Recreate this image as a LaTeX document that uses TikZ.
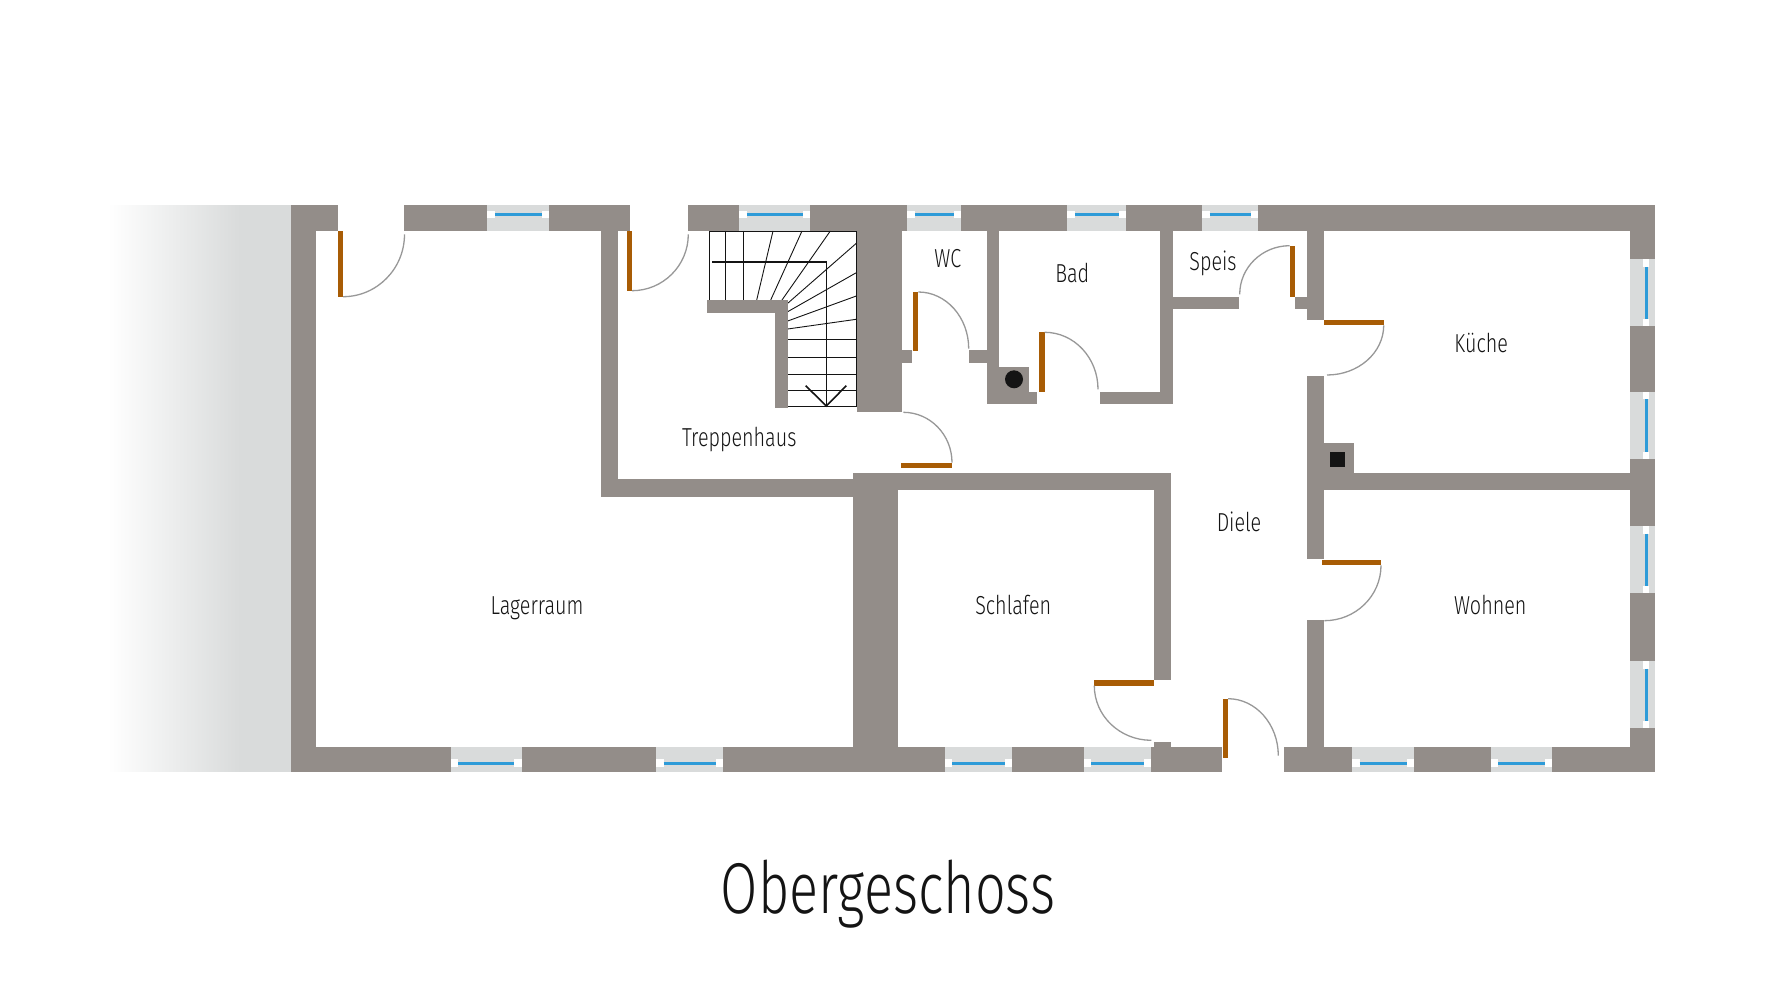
\documentclass[tikz,border=0pt]{standalone}
\usepackage{fontspec}
\setmainfont[FakeStretch=0.76]{Fira Sans Light}
\newfontfamily\titlefont[FakeStretch=0.75]{Fira Sans Light}
\usetikzlibrary{calc}
\definecolor{wallc}{HTML}{938D89}
\definecolor{glassc}{HTML}{D9DBDB}
\definecolor{bluec}{HTML}{2E9BD8}
\definecolor{doorc}{HTML}{A85C05}
\definecolor{swingc}{HTML}{989898}
\definecolor{inkc}{HTML}{141414}
\tikzset{
  wallfill/.style={fill=wallc},
  glassfill/.style={fill=glassc},
  doorfill/.style={fill=doorc},
  swingline/.style={draw=swingc,line width=1.3pt},
  pane/.style={draw=bluec,line width=3pt},
  tread/.style={draw=inkc,line width=0.9pt},
  rail/.style={draw=inkc,line width=1.6pt},
  roomlabel/.style={anchor=base,font=\fontsize{26}{26}\selectfont,text=inkc,inner sep=0pt},
  heading/.style={anchor=base,font=\titlefont\fontsize{72}{72}\selectfont,text=inkc,inner sep=0pt}
}
\newcommand{\Wl}[4]{\fill[wallfill] (#1,#2) rectangle (#3,#4);}
\newcommand{\Dr}[4]{\fill[doorfill] (#1,#2) rectangle (#3,#4);}
% horizontal window: x1 x2
\newcommand{\WT}[2]{\fill[glassfill] (#1,205.3) rectangle (#2,231);
  \fill[white] (#1,210.8) rectangle ($(#1,218.2)+(7.5,0)$);
  \fill[white] ($(#2,210.8)+(-7.5,0)$) rectangle (#2,218.2);
  \draw[pane] ($(#1,214.7)+(7.5,0)$) -- ($(#2,214.7)+(-7.5,0)$);}
\newcommand{\WB}[2]{\fill[glassfill] (#1,746.7) rectangle (#2,772.3);
  \fill[white] (#1,759.3) rectangle ($(#1,766.7)+(7.5,0)$);
  \fill[white] ($(#2,759.3)+(-7.5,0)$) rectangle (#2,766.7);
  \draw[pane] ($(#1,763)+(7.5,0)$) -- ($(#2,763)+(-7.5,0)$);}
\newcommand{\WR}[2]{\fill[glassfill] (1629.7,#1) rectangle (1655.3,#2);
  \fill[white] (1642.6,#1) rectangle ($(1649.4,#1)+(0,7.5)$);
  \fill[white] ($(1642.6,#2)+(0,-7.5)$) rectangle (1649.4,#2);
  \draw[pane] ($(1646,#1)+(0,7.5)$) -- ($(1646,#2)+(0,-7.5)$);}
% door swing: leaves x1,y1 horizontally, reaches x2,y2 vertically
\newcommand{\Swing}[4]{\draw[swingline] (#1,#2) .. controls ($(#1,#2)!.5523!(#3,#2)$) and ($(#3,#4)!.5523!(#3,#2)$) .. (#3,#4);}
\begin{document}
\begin{tikzpicture}[x=1pt,y=-1pt]
\useasboundingbox (0,0) rectangle (1776,1000);
\fill[white] (0,0) rectangle (1776,1000);
% adjoining building, fading out
\shade[left color=white,right color=glassc] (108,205.8) rectangle (240,771.6);
\fill[glassfill] (239.5,205.3) rectangle (290.7,772.3);
% outer walls: top
\Wl{290.7}{205.3}{337.7}{231}
\Wl{404.3}{205.3}{487.3}{231}
\Wl{549.3}{205.3}{630}{231}
\Wl{688.3}{205.3}{739.3}{231}
\Wl{810.3}{205.3}{907.3}{231}
\Wl{961.3}{205.3}{1067.3}{231}
\Wl{1126}{205.3}{1202}{231}
\Wl{1258}{205.3}{1655.3}{231}
% left
\Wl{290.7}{205.3}{316.3}{772.3}
% bottom
\Wl{290.7}{746.7}{450.5}{772.3}
\Wl{521.7}{746.7}{656}{772.3}
\Wl{723.4}{746.7}{944.7}{772.3}
\Wl{1012.3}{746.7}{1083.7}{772.3}
\Wl{1151.3}{746.7}{1222.3}{772.3}
\Wl{1284.3}{746.7}{1352}{772.3}
\Wl{1414}{746.7}{1490.7}{772.3}
\Wl{1552.3}{746.7}{1655.3}{772.3}
% right
\Wl{1629.7}{205.3}{1655.3}{259.3}
\Wl{1629.7}{326}{1655.3}{391.7}
\Wl{1629.7}{459.3}{1655.3}{526}
\Wl{1629.7}{593.3}{1655.3}{661}
\Wl{1629.7}{728.3}{1655.3}{772.3}
% windows
\WT{487.3}{549.3}\WT{739.3}{810.3}\WT{907.3}{961.3}\WT{1067.3}{1126}\WT{1202}{1258}
\WB{450.5}{521.7}\WB{656}{723.4}\WB{944.7}{1012.3}\WB{1083.7}{1151.3}\WB{1352}{1414}\WB{1490.7}{1552.3}
\WR{259.3}{326}\WR{391.7}{459.3}\WR{526}{593.3}\WR{661}{728.3}
% inner walls
\Wl{600.7}{231}{618}{496.7}
\Wl{600.7}{479.3}{852.7}{496.7}
\Wl{852.7}{473.3}{898.3}{746.7}
\Wl{852.7}{473.3}{1171.3}{490.3}
\Wl{1154}{473.3}{1171.3}{680}
\Wl{1154}{741.7}{1171.3}{746.7}
\Wl{856.7}{231}{902}{411.7}
\Wl{902}{350}{912}{362.7}
\Wl{969}{350}{986.7}{362.7}
\Wl{986.7}{231}{999}{404.3}
\Wl{986.7}{366.7}{1028.7}{404.3}
\Wl{986.7}{391.7}{1037.3}{404.3}
\Wl{1100}{391.7}{1172.7}{404.3}
\Wl{1160.3}{231}{1172.7}{404.3}
\Wl{1172.7}{296.7}{1238.7}{309}
\Wl{1295}{296.7}{1307}{309}
\Wl{1307}{231}{1324.3}{320}
\Wl{1307}{376}{1324.3}{559.3}
\Wl{1307}{620.3}{1324.3}{746.7}
\Wl{1324.3}{442.7}{1354}{473.3}
\Wl{1324.3}{473.3}{1629.7}{490.3}
% flues
\fill[inkc] (1014,379.3) circle[radius=9];
\fill[inkc] (1330.3,451.7) rectangle (1345.3,466.7);
% stairs
\draw[tread] (787.7,300) -- (709.3,300) -- (709.3,231) -- (856.3,231) -- (856.3,406.7) -- (787.7,406.7);
\draw[tread] (725.3,231) -- (725.3,300);
\draw[tread] (743.3,231) -- (743.3,300);
\draw[tread] (773,231) -- (756.7,300);
\draw[tread] (802,231) -- (770.7,300);
\draw[tread] (830.3,231) -- (782,300);
\draw[tread] (856.3,243.3) -- (787.7,303.3);
\draw[tread] (856.3,272.7) -- (787.7,311.7);
\draw[tread] (856.3,296) -- (787.7,321);
\draw[tread] (856.3,319.3) -- (787.7,329);
\draw[tread] (787.7,339.3) -- (856.3,339.3);
\draw[tread] (787.7,357) -- (856.3,357);
\draw[tread] (787.7,374) -- (856.3,374);
\draw[tread] (787.7,390.3) -- (856.3,390.3);
\Wl{706.7}{300}{787.7}{313.3}
\Wl{774.7}{300}{787.7}{408}
\draw[rail] (712,262) -- (826.3,262) -- (826.3,406);
\draw[rail] (805.7,385.7) -- (826.3,406) -- (846.3,385.7);
% doors
\Dr{337.7}{231}{343.3}{296.7}\Swing{343}{296.7}{404.5}{234.3}
\Dr{627}{231}{632.3}{290.7}\Swing{632}{290.7}{688.3}{234.3}
\Dr{913}{292}{918.3}{351.3}\Swing{918.3}{292}{968.7}{348.7}
\Dr{901.3}{462.7}{952}{468}\Swing{903.3}{412.3}{952}{462.7}
\Dr{1039.3}{332.3}{1044.7}{391.7}\Swing{1044.7}{332.3}{1098}{389.3}
\Dr{1289.7}{245.7}{1295}{296.7}\Swing{1289.7}{245.7}{1239.7}{294.3}
\Dr{1324.3}{320}{1383.7}{325.3}\Swing{1327}{375}{1383.7}{325.3}
\Dr{1321.7}{559.7}{1381}{565.3}\Swing{1324.3}{620.7}{1381}{565.3}
\Dr{1094.3}{680}{1154}{685.7}\Swing{1151.3}{740.3}{1094.3}{685.7}
\Dr{1222.7}{698.7}{1228}{758.3}\Swing{1228}{698.7}{1278.3}{755.7}
% labels
\node[roomlabel] (wc) at (947.7,268) {WC};
\node[roomlabel] (bad) at (1072.3,282) {Bad};
\node[roomlabel] (speis) at (1213,270) {Speis};
\node[roomlabel] (kueche) at (1481.2,352.3) {Küche};
\node[roomlabel] (treppe) at (739.2,446) {Treppenhaus};
\node[roomlabel] (diele) at (1239,531) {Diele};
\node[roomlabel] (lager) at (537,614) {Lagerraum};
\node[roomlabel] (schlafen) at (1013.2,614) {Schlafen};
\node[roomlabel] (wohnen) at (1490.3,614) {Wohnen};
\node[heading] (title) at (888,913.3) {Obergeschoss};
\end{tikzpicture}
\end{document}
